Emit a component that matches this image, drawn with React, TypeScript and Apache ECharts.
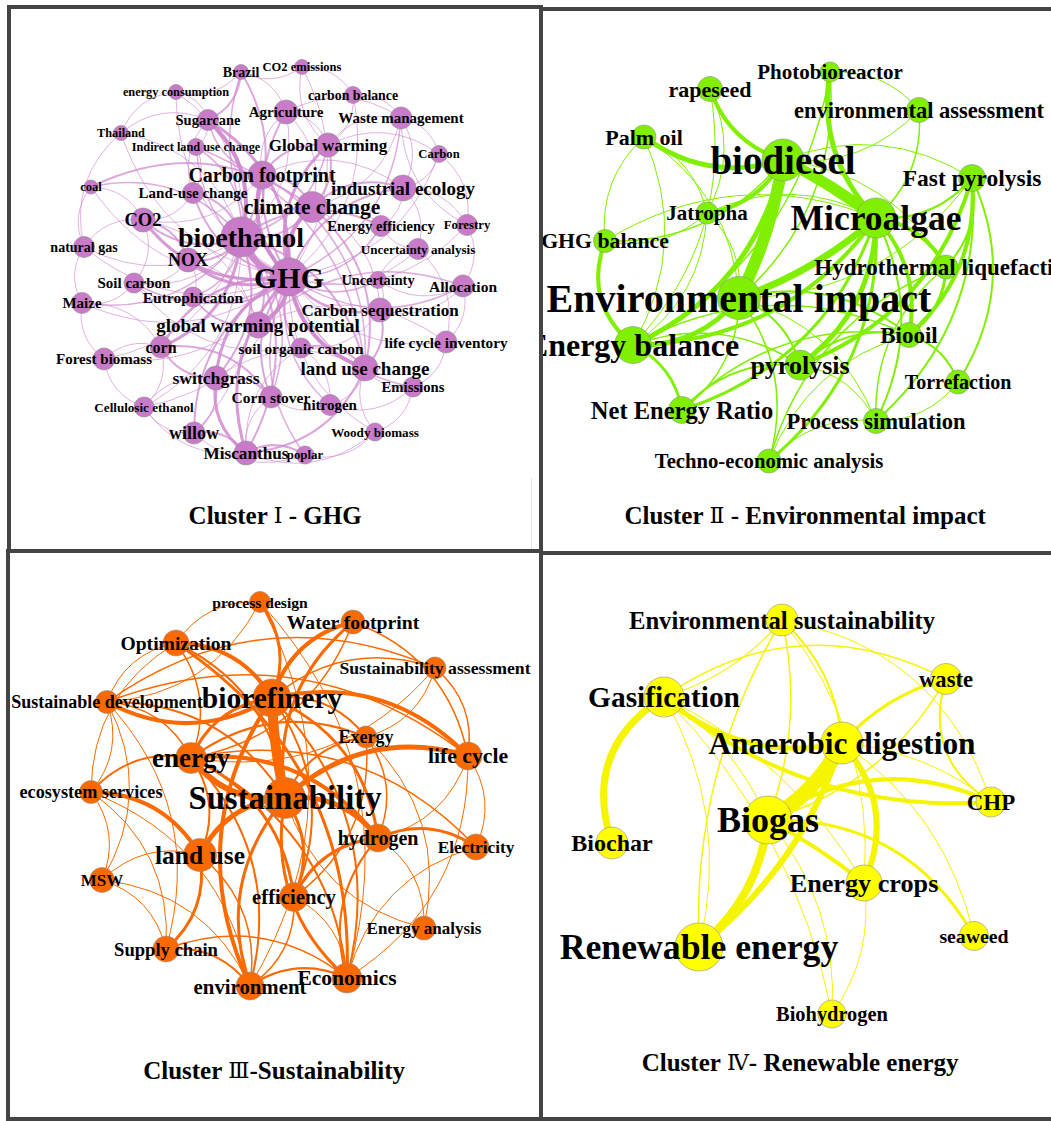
import React, { useEffect, useRef } from "react";
import * as echarts from "echarts";

// [name, x, y, nodeSize, labelSize]
type Node = [string, number, number, number, number];
// [source, target, weight, curveness?]
type Link = [string, string, number, number?];

const c1Nodes: Node[] = [
  ["Brazil", 241, 72, 15, 14],
  ["CO2 emissions", 302, 67, 15, 12.5],
  ["energy consumption", 176, 92, 15, 12.3],
  ["carbon balance", 353, 95, 17, 13.8],
  ["Agriculture", 286, 112, 24, 15],
  ["Sugarcane", 208, 120, 21, 14.5],
  ["Waste management", 401, 118, 22, 15],
  ["Thailand", 121, 133, 15, 12.3],
  ["Indirect land use change", 196, 147, 17, 12.3],
  ["Global warming", 328, 145, 24, 17],
  ["Carbon", 439, 154, 17, 12.6],
  ["Carbon footprint", 262, 175, 28, 20],
  ["coal", 91, 187, 14, 12.6],
  ["industrial ecology", 403, 188, 26, 19],
  ["Land-use change", 193, 193, 21, 15],
  ["climate change", 312, 207, 31, 21.5],
  ["CO2", 143, 220, 24, 18.5],
  ["Energy efficiency", 381, 226, 21, 14.5],
  ["Forestry", 467, 225, 21, 12.8],
  ["bioethanol", 241, 237, 40, 28],
  ["natural gas", 84, 247, 21, 14],
  ["Uncertainty analysis", 418, 249, 21, 13.1],
  ["NOX", 188, 260, 24, 18],
  ["GHG", 289, 277, 38, 30],
  ["Uncertainty", 378, 280, 17, 14.3],
  ["Soil carbon", 134, 283, 20, 15],
  ["Allocation", 463, 286, 22, 15.5],
  ["Maize", 82, 303, 21, 15],
  ["Eutrophication", 193, 297, 20, 15.5],
  ["Carbon sequestration", 380, 310, 24, 17],
  ["global warming potential", 258, 325, 26, 19],
  ["corn", 161, 347, 22, 16],
  ["Forest biomass", 104, 359, 22, 15],
  ["soil organic carbon", 301, 348, 20, 15.3],
  ["life cycle inventory", 446, 342, 22, 15.3],
  ["land use change", 365, 368, 26, 19],
  ["switchgrass", 216, 378, 24, 17.6],
  ["Emissions", 413, 387, 20, 14.7],
  ["Corn stover", 271, 397, 22, 15.5],
  ["nitrogen", 330, 405, 21, 15],
  ["Cellulosic ethanol", 144, 407, 20, 13.1],
  ["willow", 194, 433, 22, 18],
  ["Woody biomass", 375, 432, 18, 13.1],
  ["Miscanthus", 246, 453, 24, 17.2],
  ["poplar", 305, 455, 18, 12.8],
];

const c1Links: Link[] = [
  ["GHG", "bioethanol", 6], ["GHG", "Carbon footprint", 4], ["GHG", "climate change", 4],
  ["GHG", "global warming potential", 4], ["land use change", "GHG", 4], ["Sugarcane", "GHG", 3],
  ["GHG", "Global warming", 3], ["GHG", "CO2", 3], ["GHG", "NOX", 3], ["Miscanthus", "GHG", 3],
  ["switchgrass", "GHG", 3], ["corn", "GHG", 2.5], ["GHG", "Agriculture", 2], ["GHG", "industrial ecology", 2],
  ["Carbon sequestration", "GHG", 2.5], ["GHG", "Eutrophication", 2], ["willow", "GHG", 2], ["Corn stover", "GHG", 2],
  ["soil organic carbon", "GHG", 2], ["GHG", "Land-use change", 2], ["Uncertainty", "GHG", 1.5],
  ["Energy efficiency", "GHG", 1.5], ["Allocation", "GHG", 1.5], ["GHG", "Soil carbon", 1.5], ["GHG", "Maize", 1],
  ["GHG", "Brazil", 1.5], ["GHG", "natural gas", 1], ["Waste management", "GHG", 1.5], ["Emissions", "GHG", 1.5],
  ["nitrogen", "GHG", 1.5], ["GHG", "Cellulosic ethanol", 1], ["GHG", "Forest biomass", 1], ["Woody biomass", "GHG", 1],
  ["poplar", "GHG", 1.5], ["life cycle inventory", "GHG", 1], ["Uncertainty analysis", "GHG", 1],
  ["carbon balance", "GHG", 1], ["CO2 emissions", "GHG", 1], ["GHG", "Indirect land use change", 1.5],
  ["GHG", "energy consumption", 1], ["GHG", "Thailand", 1], ["GHG", "coal", 1], ["Carbon", "GHG", 1], ["Forestry", "GHG", 1],
  ["Sugarcane", "bioethanol", 4], ["Brazil", "bioethanol", 2], ["bioethanol", "corn", 3], ["bioethanol", "switchgrass", 2],
  ["Carbon footprint", "bioethanol", 2], ["climate change", "bioethanol", 2], ["bioethanol", "CO2", 2],
  ["Land-use change", "bioethanol", 2], ["bioethanol", "NOX", 2], ["bioethanol", "natural gas", 1], ["bioethanol", "Maize", 1.5],
  ["bioethanol", "Corn stover", 1.5], ["bioethanol", "Cellulosic ethanol", 1], ["Indirect land use change", "bioethanol", 1.5],
  ["energy consumption", "bioethanol", 1], ["Thailand", "bioethanol", 1], ["coal", "bioethanol", 1.5],
  ["bioethanol", "Energy efficiency", 2], ["bioethanol", "land use change", 2], ["bioethanol", "Miscanthus", 2],
  ["bioethanol", "Eutrophication", 1.5], ["bioethanol", "global warming potential", 2], ["Agriculture", "bioethanol", 1],
  ["Global warming", "bioethanol", 1.5], ["bioethanol", "Soil carbon", 1], ["bioethanol", "willow", 1], ["bioethanol", "Forest biomass", 1],
  ["Carbon footprint", "climate change", 2], ["Carbon footprint", "Global warming", 2], ["climate change", "industrial ecology", 2],
  ["Global warming", "climate change", 2], ["Agriculture", "climate change", 1], ["Waste management", "climate change", 1],
  ["climate change", "Energy efficiency", 1], ["climate change", "land use change", 2], ["climate change", "Carbon sequestration", 1],
  ["coal", "climate change", 2], ["Miscanthus", "switchgrass", 3], ["willow", "Miscanthus", 2], ["Miscanthus", "poplar", 2],
  ["Miscanthus", "Corn stover", 1], ["land use change", "Miscanthus", 2], ["Miscanthus", "soil organic carbon", 1],
  ["switchgrass", "corn", 2], ["switchgrass", "Corn stover", 2], ["Cellulosic ethanol", "switchgrass", 1], ["switchgrass", "willow", 1.5],
  ["switchgrass", "land use change", 1], ["corn", "Corn stover", 2], ["Maize", "corn", 1], ["Forest biomass", "corn", 1],
  ["corn", "Cellulosic ethanol", 1], ["Carbon sequestration", "land use change", 2], ["soil organic carbon", "land use change", 2],
  ["Indirect land use change", "land use change", 1.5], ["land use change", "nitrogen", 1], ["Emissions", "land use change", 1],
  ["Woody biomass", "land use change", 1], ["Allocation", "Carbon sequestration", 1], ["Uncertainty", "Carbon sequestration", 1],
  ["Carbon sequestration", "soil organic carbon", 1], ["global warming potential", "Eutrophication", 2], ["CO2", "global warming potential", 1],
  ["NOX", "global warming potential", 1], ["global warming potential", "Allocation", 1.5], ["global warming potential", "life cycle inventory", 1],
  ["Waste management", "industrial ecology", 1], ["Carbon", "industrial ecology", 1], ["industrial ecology", "Forestry", 1],
  ["industrial ecology", "Uncertainty analysis", 1], ["industrial ecology", "Energy efficiency", 1], ["CO2", "NOX", 2],
  ["natural gas", "CO2", 1], ["coal", "CO2", 1], ["CO2", "Soil carbon", 1], ["Land-use change", "CO2", 1],
  ["NOX", "Eutrophication", 1], ["NOX", "Soil carbon", 1], ["Brazil", "Sugarcane", 2], ["CO2 emissions", "Brazil", 1],
  ["Brazil", "Agriculture", 1], ["Agriculture", "Global warming", 1], ["Agriculture", "Waste management", 1],
  ["Global warming", "Waste management", 1], ["Global warming", "Carbon", 1], ["energy consumption", "Sugarcane", 1],
  ["Thailand", "energy consumption", 1], ["natural gas", "Thailand", 1], ["Thailand", "Sugarcane", 1], ["natural gas", "coal", 1],
  ["Maize", "natural gas", 1], ["Forest biomass", "Maize", 1], ["Cellulosic ethanol", "Forest biomass", 1],
  ["willow", "Cellulosic ethanol", 1], ["poplar", "willow", 1], ["Woody biomass", "poplar", 1], ["Emissions", "Woody biomass", 1],
  ["life cycle inventory", "Emissions", 1], ["Allocation", "life cycle inventory", 1], ["Forestry", "Allocation", 1],
  ["Carbon", "Forestry", 1], ["Waste management", "Carbon", 1], ["carbon balance", "Waste management", 1],
  ["CO2 emissions", "carbon balance", 1], ["Global warming", "CO2 emissions", 1], ["carbon balance", "Global warming", 1],
  ["Uncertainty", "Uncertainty analysis", 1], ["Allocation", "Uncertainty", 1], ["Uncertainty analysis", "Energy efficiency", 1],
  ["soil organic carbon", "nitrogen", 1], ["nitrogen", "Corn stover", 1], ["Emissions", "nitrogen", 1], ["Soil carbon", "Maize", 1],
  ["soil organic carbon", "Soil carbon", 1], ["Eutrophication", "Soil carbon", 1], ["Uncertainty analysis", "life cycle inventory", 1],
  ["Indirect land use change", "Land-use change", 1], ["Sugarcane", "Indirect land use change", 1], ["Land-use change", "Sugarcane", 1],
  ["Carbon footprint", "Sugarcane", 1.5], ["Carbon footprint", "Agriculture", 1], ["Carbon footprint", "industrial ecology", 1],
  ["Carbon footprint", "land use change", 1.5], ["Miscanthus", "Cellulosic ethanol", 1], ["Woody biomass", "Miscanthus", 1],
  ["Carbon footprint", "CO2", 1], ["Forestry", "Waste management", 1], ["Brazil", "energy consumption", 1],
];

const c2Nodes: Node[] = [
  ["Photobioreactor", 830, 72, 20, 21],
  ["rapeseed", 710, 89, 25, 22],
  ["environmental assessment", 919, 110, 25, 22.5],
  ["Palm oil", 644, 137, 24, 22],
  ["biodiesel", 783, 160, 42, 39],
  ["Fast pyrolysis", 972, 178, 27, 23.5],
  ["Jatropha", 707, 213, 22, 21],
  ["Microalgae", 876, 218, 40, 35.5],
  ["GHG balance", 605, 241, 23, 21.8],
  ["Hydrothermal liquefaction", 946, 267, 24, 23],
  ["Environmental impact", 739, 298, 43, 40],
  ["Energy balance", 633, 345, 37, 32],
  ["Biooil", 909, 335, 25, 23],
  ["pyrolysis", 800, 365, 30, 26],
  ["Torrefaction", 958, 382, 24, 20],
  ["Net Energy Ratio", 682, 410, 27, 24.5],
  ["Process simulation", 876, 421, 25, 22.5],
  ["Techno-economic analysis", 769, 461, 24, 20.7],
];

const c2Links: Link[] = [
  ["biodiesel", "Microalgae", 11, 0.05], ["biodiesel", "Environmental impact", 12, 0.08],
  ["Microalgae", "Environmental impact", 7, 0.1], ["Environmental impact", "Energy balance", 5],
  ["biodiesel", "Energy balance", 5], ["Microalgae", "Energy balance", 4], ["biodiesel", "Palm oil", 5],
  ["biodiesel", "rapeseed", 4], ["biodiesel", "Jatropha", 4], ["Microalgae", "Photobioreactor", 5],
  ["Microalgae", "Hydrothermal liquefaction", 4], ["Microalgae", "pyrolysis", 5], ["Microalgae", "Biooil", 4],
  ["Fast pyrolysis", "Biooil", 4], ["Fast pyrolysis", "pyrolysis", 4], ["Energy balance", "GHG balance", 4, 0.35],
  ["Energy balance", "Net Energy Ratio", 3], ["Microalgae", "Net Energy Ratio", 3],
  ["Microalgae", "Techno-economic analysis", 3], ["Microalgae", "Process simulation", 2],
  ["Biooil", "Torrefaction", 2], ["Fast pyrolysis", "Torrefaction", 2, 0.27], ["Fast pyrolysis", "Process simulation", 2],
  ["Hydrothermal liquefaction", "Biooil", 3], ["Fast pyrolysis", "Hydrothermal liquefaction", 2],
  ["Photobioreactor", "environmental assessment", 1], ["environmental assessment", "Microalgae", 1.5],
  ["environmental assessment", "biodiesel", 1], ["Photobioreactor", "Energy balance", 1.5],
  ["Photobioreactor", "Environmental impact", 1.5], ["Palm oil", "Jatropha", 1], ["GHG balance", "Palm oil", 1],
  ["Palm oil", "Energy balance", 1], ["Palm oil", "Environmental impact", 1], ["rapeseed", "Energy balance", 1],
  ["rapeseed", "Jatropha", 1], ["Jatropha", "GHG balance", 1], ["Jatropha", "Microalgae", 1], ["Jatropha", "Energy balance", 1],
  ["Jatropha", "Environmental impact", 1], ["GHG balance", "Microalgae", 1], ["Net Energy Ratio", "pyrolysis", 2],
  ["Net Energy Ratio", "Biooil", 1.5], ["pyrolysis", "Biooil", 2], ["pyrolysis", "Process simulation", 1],
  ["Environmental impact", "pyrolysis", 2], ["Environmental impact", "Biooil", 2],
  ["Environmental impact", "Techno-economic analysis", 1.5], ["Environmental impact", "Process simulation", 1],
  ["Environmental impact", "Net Energy Ratio", 1.5], ["Energy balance", "Biooil", 1.5], ["Energy balance", "pyrolysis", 1.5],
  ["Techno-economic analysis", "Process simulation", 1], ["Techno-economic analysis", "Hydrothermal liquefaction", 1.5],
  ["Techno-economic analysis", "Biooil", 1], ["Fast pyrolysis", "Environmental impact", 1], ["Fast pyrolysis", "Microalgae", 2],
  ["biodiesel", "Fast pyrolysis", 1], ["biodiesel", "Hydrothermal liquefaction", 1], ["Torrefaction", "Process simulation", 1],
  ["Process simulation", "Hydrothermal liquefaction", 1.5], ["biodiesel", "GHG balance", 1.5],
];

const c3Nodes: Node[] = [
  ["process design", 260, 602, 21, 15.6],
  ["Water footprint", 353, 622, 24, 19.7],
  ["Optimization", 176, 643, 26, 19.6],
  ["Sustainability assessment", 435, 668, 22, 17.7],
  ["Sustainable development", 107, 702, 23, 18],
  ["biorefinery", 272, 698, 38, 29.5],
  ["Exergy", 366, 737, 22, 18],
  ["energy", 191, 758, 31, 27],
  ["life cycle", 468, 756, 28, 21.7],
  ["ecosystem services", 91, 792, 23, 18.2],
  ["Sustainability", 285, 798, 41, 32.8],
  ["hydrogen", 378, 838, 28, 20],
  ["Electricity", 476, 847, 26, 17.3],
  ["land use", 200, 855, 33, 25.5],
  ["MSW", 102, 880, 25, 17],
  ["efficiency", 294, 897, 29, 20.7],
  ["Energy analysis", 424, 928, 24, 17],
  ["Supply chain", 166, 949, 26, 18.6],
  ["environment", 250, 986, 28, 20.8],
  ["Economics", 347, 978, 30, 21.5],
];

const c3Links: Link[] = [
  ["Sustainability", "biorefinery", 10, 0.05], ["Sustainability", "energy", 6], ["Sustainability", "life cycle", 5],
  ["land use", "Sustainability", 5], ["Sustainability", "hydrogen", 5], ["Sustainability", "efficiency", 3],
  ["Economics", "Sustainability", 3], ["environment", "Sustainability", 3], ["Sustainability", "Exergy", 2],
  ["Sustainability", "Water footprint", 3], ["Optimization", "Sustainability", 2], ["Sustainable development", "Sustainability", 2],
  ["ecosystem services", "land use", 4], ["biorefinery", "Sustainable development", 4], ["Optimization", "biorefinery", 4],
  ["biorefinery", "Water footprint", 4], ["process design", "biorefinery", 3], ["biorefinery", "life cycle", 4],
  ["energy", "biorefinery", 3], ["biorefinery", "Exergy", 2], ["biorefinery", "hydrogen", 3],
  ["environment", "biorefinery", 4], ["biorefinery", "efficiency", 2], ["biorefinery", "Economics", 2],
  ["biorefinery", "Sustainability assessment", 1.5], ["energy", "hydrogen", 4], ["energy", "efficiency", 3],
  ["ecosystem services", "energy", 2], ["energy", "Exergy", 2], ["energy", "land use", 2], ["energy", "Economics", 2],
  ["energy", "environment", 2], ["land use", "Supply chain", 3], ["MSW", "land use", 1], ["land use", "environment", 1.5],
  ["Optimization", "Economics", 3], ["Sustainable development", "Optimization", 1], ["Optimization", "process design", 1],
  ["Optimization", "energy", 1.5], ["ecosystem services", "Optimization", 1], ["process design", "Sustainable development", 1],
  ["process design", "environment", 1], ["process design", "Economics", 1], ["Water footprint", "life cycle", 1.5],
  ["Water footprint", "energy", 1.5], ["Sustainability assessment", "life cycle", 1.5],
  ["Sustainable development", "Sustainability assessment", 1.5], ["Sustainability assessment", "energy", 1],
  ["Sustainability assessment", "Exergy", 1], ["Sustainable development", "ecosystem services", 1],
  ["Sustainable development", "MSW", 1], ["Sustainable development", "Supply chain", 1], ["Sustainable development", "energy", 1.5],
  ["Sustainable development", "life cycle", 1.5], ["ecosystem services", "MSW", 1], ["ecosystem services", "Supply chain", 1],
  ["ecosystem services", "environment", 1], ["MSW", "Supply chain", 1], ["MSW", "environment", 1],
  ["Supply chain", "environment", 2], ["Supply chain", "Economics", 1.5], ["environment", "Economics", 2],
  ["efficiency", "environment", 1.5], ["efficiency", "hydrogen", 3], ["efficiency", "Economics", 1], ["Exergy", "efficiency", 1.5],
  ["hydrogen", "Electricity", 3], ["hydrogen", "Energy analysis", 1], ["Economics", "hydrogen", 2], ["Exergy", "hydrogen", 1.5],
  ["life cycle", "hydrogen", 1], ["life cycle", "Electricity", 1], ["Economics", "Electricity", 1], ["energy", "Electricity", 1.5],
  ["Energy analysis", "Sustainability", 1], ["Exergy", "Energy analysis", 1], ["life cycle", "Economics", 1],
];

const c4Nodes: Node[] = [
  ["Environmental sustainability", 782, 620, 32, 24.7],
  ["waste", 946, 679, 31, 22.6],
  ["Gasification", 664, 697, 40, 29.4],
  ["Anaerobic digestion", 842, 743, 42, 31.4],
  ["CHP", 991, 802, 30, 22.9],
  ["Biogas", 768, 820, 48, 36],
  ["Biochar", 612, 843, 32, 24],
  ["Energy crops", 864, 883, 36, 26.2],
  ["seaweed", 974, 936, 29, 19.8],
  ["Renewable energy", 699, 947, 48, 35.7],
  ["Biohydrogen", 832, 1014, 28, 20.4],
];

const c4Links: Link[] = [
  ["Anaerobic digestion", "Biogas", 15, 0.15], ["Biogas", "Renewable energy", 8, 0.2],
  ["Anaerobic digestion", "Renewable energy", 6, 0.15], ["Biochar", "Gasification", 7, 0.39],
  ["Anaerobic digestion", "Gasification", 5, 0.25], ["CHP", "Gasification", 4, 0.2],
  ["Anaerobic digestion", "Energy crops", 6, 0.32], ["Biogas", "Energy crops", 4, 0.05],
  ["Biogas", "CHP", 4, 0.28], ["Biogas", "seaweed", 3, 0.3], ["Anaerobic digestion", "waste", 3, 0.15],
  ["CHP", "waste", 2, 0.38], ["Gasification", "waste", 1.5, 0.3],
  ["Environmental sustainability", "Gasification", 1.2, 0.15], ["Environmental sustainability", "Anaerobic digestion", 2, 0.2],
  ["Environmental sustainability", "Biogas", 1.5, 0.15], ["Renewable energy", "Environmental sustainability", 1.5, 0.15],
  ["Environmental sustainability", "CHP", 1, 0.3], ["Environmental sustainability", "Energy crops", 1, 0.2],
  ["Gasification", "Biogas", 1, 0.15], ["Gasification", "Renewable energy", 1, 0.2], ["Gasification", "Biohydrogen", 1, 0.15],
  ["Anaerobic digestion", "CHP", 1, 0.15], ["Energy crops", "Biohydrogen", 1, 0.2], ["Biogas", "Biohydrogen", 1, 0.2],
  ["Anaerobic digestion", "seaweed", 1, 0.2], ["Gasification", "Energy crops", 1, 0.15], ["waste", "Biogas", 1.5, 0.2],
];

const titles = [
  "Cluster {r|Ⅰ} - GHG",
  "Cluster {r|Ⅱ} - Environmental impact",
  "Cluster {r|Ⅲ}-Sustainability",
  "Cluster {r|Ⅳ}- Renewable energy",
];

const SERIF = "Liberation Serif, DejaVu Serif, serif";

const PANELS = [
  { nodes: c1Nodes, links: c1Links, node: "#c97ac9", edge: "#d08ad0", baseOpacity: 0.55, curve: 0.3, title: titles[0], tx: 275, ty: 515,
    frame: { left: 7, top: 5, width: 536, height: 548, bl: 4, bt: 4, br: 4, bb: 4 } },
  { nodes: c2Nodes, links: c2Links, node: "#80f000", edge: "#80f000", baseOpacity: 0.95, curve: 0.25, title: titles[1], tx: 805, ty: 515,
    frame: { left: 539, top: 7, width: 512, height: 548, bl: 4, bt: 4, br: 0, bb: 4 } },
  { nodes: c3Nodes, links: c3Links, node: "#fb6a00", edge: "#fb6a00", baseOpacity: 0.95, curve: 0.28, title: titles[2], tx: 274, ty: 1070,
    frame: { left: 6, top: 549, width: 537, height: 572, bl: 4, bt: 4, br: 4, bb: 4 } },
  { nodes: c4Nodes, links: c4Links, node: "#ffff00", edge: "#f5f500", baseOpacity: 1, curve: 0.25, title: titles[3], tx: 800, ty: 1062,
    frame: { left: 539, top: 551, width: 512, height: 570, bl: 4, bt: 4, br: 0, bb: 4 } },
];

function contentRect(f: any) {
  return { x: f.left + f.bl, y: f.top + f.bt, w: f.width - f.bl - f.br, h: f.height - f.bt - f.bb };
}

function buildOption(p: any) {
  const r = contentRect(p.frame);
  return {
    animation: false,
    textStyle: { fontFamily: SERIF },
    grid: { left: 0, right: 0, top: 0, bottom: 0 },
    xAxis: { type: "value", min: r.x, max: r.x + r.w, show: false },
    yAxis: { type: "value", min: r.y, max: r.y + r.h, inverse: true, show: false },
    graphic: [
      {
        type: "text",
        x: p.tx - r.x,
        y: p.ty - r.y,
        z: 10,
        style: {
          text: p.title,
          fill: "#000",
          fontSize: 25,
          fontWeight: "bold",
          fontFamily: SERIF,
          align: "center",
          verticalAlign: "middle",
          rich: {
            r: { fontSize: 22, fontWeight: "normal", fontFamily: "DejaVu Serif, Noto Sans CJK SC, serif", fill: "#000" },
          },
        },
      },
    ],
    series: [
      {
        type: "graph",
        layout: "none",
        coordinateSystem: "cartesian2d",
        xAxisIndex: 0,
        yAxisIndex: 0,
        silent: true,
        symbol: "circle",
        itemStyle: { color: p.node, borderColor: "#8f8f8f", borderWidth: 0.6 },
        lineStyle: { color: p.edge, curveness: p.curve },
        emphasis: { disabled: true },
        label: {
          show: true,
          position: "inside",
          color: "#000",
          fontFamily: SERIF,
          fontWeight: "bold",
        },
        data: p.nodes.map((n: Node) => ({
          name: n[0],
          value: [n[1], n[2]],
          symbolSize: n[3],
          label: { fontSize: n[4], fontFamily: SERIF, fontWeight: "bold" },
        })),
        links: p.links.map((l: Link) => ({
          source: l[0],
          target: l[1],
          lineStyle: {
            width: l[2],
            curveness: l[3] ?? p.curve,
            opacity: Math.min(1, p.baseOpacity + l[2] * 0.1),
          },
        })),
      },
    ],
  };
}

export default function App() {
  const refs = [useRef<HTMLDivElement>(null), useRef<HTMLDivElement>(null), useRef<HTMLDivElement>(null), useRef<HTMLDivElement>(null)];
  useEffect(() => {
    const charts = PANELS.map((p, i) => {
      const c = echarts.init(refs[i].current as HTMLDivElement, undefined, { renderer: "svg" });
      c.setOption(buildOption(p));
      return c;
    });
    return () => charts.forEach((c) => c.dispose());
  }, []);
  return (
    <div style={{ position: "absolute", left: 0, top: 0, width: 1051, height: 1121, background: "#fff", overflow: "hidden" }}>
      {PANELS.map((p, i) => {
        const r = contentRect(p.frame);
        return (
          <div
            key={"c" + i}
            ref={refs[i]}
            style={{ position: "absolute", left: r.x, top: r.y, width: r.w, height: r.h, overflow: "hidden" }}
          />
        );
      })}
      {PANELS.map((p, i) => {
        const f = p.frame;
        return (
          <div
            key={"f" + i}
            style={{
              position: "absolute",
              left: f.left,
              top: f.top,
              width: f.width,
              height: f.height,
              boxSizing: "border-box",
              borderStyle: "solid",
              borderColor: "#444",
              borderLeftWidth: f.bl,
              borderTopWidth: f.bt,
              borderRightWidth: f.br,
              borderBottomWidth: f.bb,
              pointerEvents: "none",
            }}
          />
        );
      })}
      <div style={{ position: "absolute", left: 531, top: 478, width: 1, height: 71, background: "#e2e2e2" }} />
    </div>
  );
}
